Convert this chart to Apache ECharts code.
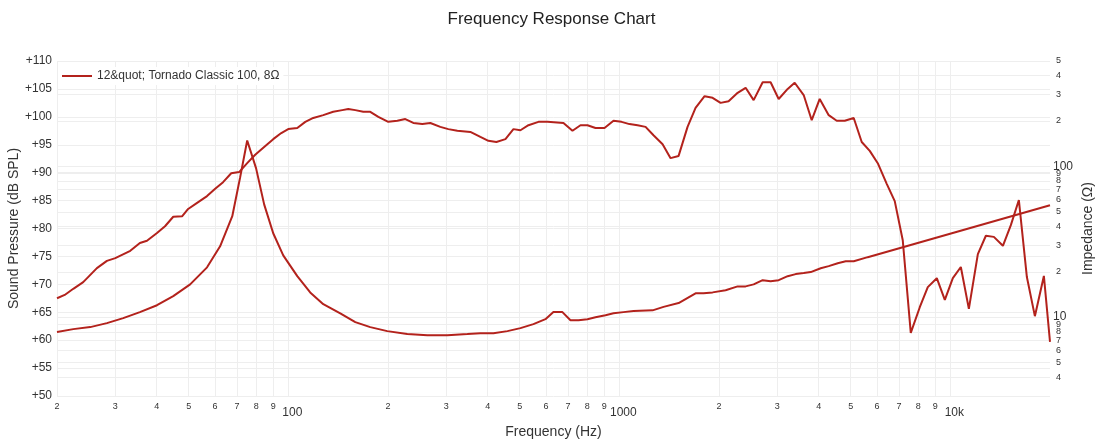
<!DOCTYPE html>
<html><head><meta charset="utf-8">
<script src="https://cdn.jsdelivr.net/npm/echarts@6/dist/echarts.min.js"></script>
<style>html,body{margin:0;padding:0;background:#fff}#c{width:1103px;height:444px}</style>
</head><body><div id="c"></div>
<script>
const seriesName = '12&quot; Tornado Classic 100, 8Ω';

const splFreq = [20, 21.1, 22.4, 24.0, 26.4, 28.3, 30.0, 33.3, 35.6, 37.4,
  40.1, 42.4, 44.9, 47.8, 49.8, 53.0, 56.8, 60.1, 63.5, 67.2,
  71.0, 75.1, 79.4, 84.5, 90.0, 95.2, 99.9, 106.4, 112.5, 118.9,
  127.5, 136.6, 145.5, 151.7, 159.3, 168.4, 176.8, 187.0, 200.4, 213.4,
  225.6, 238.5, 253.9, 268.5, 287.8, 304.3, 324.0, 354.7, 380.3, 402.1,
  425.1, 452.7, 478.6, 502.5, 531.3, 569.5, 606.4, 677.9, 721.7, 763.0,
  801.1, 847, 901.8, 960.1, 1015, 1073, 1135, 1200, 1268, 1351,
  1428, 1510, 1607, 1699, 1809, 1913, 2022, 2138, 2277, 2407,
  2545, 2710, 2864, 3029, 3225, 3386, 3605, 3812, 4030, 4290,
  4536, 4796, 5106, 5398, 5708, 6035, 6424, 6792, 7181, 7593,
  8084, 8547, 9100, 9622, 10174, 10756, 11374, 12108, 12802, 13534,
  14412, 15232, 16106, 17028, 18004, 19166, 20000];
const splDb = [67.5, 68.1, 69.2, 70.4, 72.9, 74.2, 74.7, 76.0, 77.4, 77.8,
  79.2, 80.4, 82.1, 82.2, 83.5, 84.6, 85.8, 87.1, 88.3, 89.9,
  90.1, 91.7, 93.2, 94.6, 96.0, 97.1, 97.8, 98.0, 99.1, 99.8,
  100.3, 100.9, 101.2, 101.4, 101.2, 100.9, 100.9, 100.0, 99.1, 99.3,
  99.6, 98.9, 98.7, 98.9, 98.2, 97.8, 97.5, 97.3, 96.4, 95.7,
  95.5, 96.0, 97.8, 97.6, 98.5, 99.1, 99.1, 98.9, 97.5, 98.5,
  98.5, 98.0, 98.0, 99.3, 99.1, 98.7, 98.5, 98.2, 96.7, 95.1,
  92.6, 93.0, 98.2, 101.6, 103.7, 103.4, 102.5, 102.8, 104.3, 105.2,
  103.0, 106.2, 106.2, 103.2, 105.0, 106.1, 103.9, 99.4, 103.2, 100.3,
  99.3, 99.3, 99.8, 95.5, 93.9, 91.7, 88.0, 84.9, 77.9, 61.3,
  65.9, 69.5, 71.1, 67.2, 71.1, 73.1, 65.6, 75.4, 78.7, 78.5,
  76.9, 80.6, 85.1, 71.3, 64.3, 71.5, 59.7];

const impFreq = [20, 22.4, 25.2, 28.3, 31.7, 35.6, 40.1, 44.9, 50.5, 56.8,
  62.2, 67.7, 71.5, 75.1, 79.9, 84.5, 90.0, 96.5, 106.4, 116.4,
  127.5, 143.5, 159.3, 176.8, 199, 228.7, 262.9, 302.2, 347.4, 380.3,
  416.4, 459, 502.5, 550, 598, 632, 673, 711.6, 752.6, 801,
  847, 908, 960, 1029, 1104, 1260, 1360, 1510, 1699, 1796,
  1913, 2094, 2277, 2407, 2545, 2710, 2864, 3029, 3225, 3409,
  3605, 3786, 4058, 4290, 4568, 4830, 5106, 5628, 20000];
const impOhm = [7.96, 8.33, 8.59, 9.13, 9.85, 10.8, 12.0, 13.8, 16.5, 21.4,
  29.5, 46.7, 84.5, 148.6, 97.0, 56.0, 36.0, 25.7, 18.7, 14.6,
  12.2, 10.6, 9.27, 8.59, 8.08, 7.72, 7.60, 7.60, 7.72, 7.83,
  7.83, 8.08, 8.46, 8.99, 9.70, 10.8, 10.8, 9.55, 9.55, 9.70,
  10.0, 10.3, 10.6, 10.8, 11.0, 11.1, 11.7, 12.4, 14.4, 14.4,
  14.6, 15.1, 16.0, 16.0, 16.5, 17.6, 17.3, 17.6, 18.7, 19.3,
  19.6, 19.9, 21.1, 21.8, 22.8, 23.5, 23.5, 25.0, 55.2];

const xTickValues = [20, 30, 40, 50, 60, 70, 80, 90, 100,
  200, 300, 400, 500, 600, 700, 800, 900, 1000,
  2000, 3000, 4000, 5000, 6000, 7000, 8000, 9000, 10000];
const xTickLabels = ['2', '3', '4', '5', '6', '7', '8', '9', '100',
  '2', '3', '4', '5', '6', '7', '8', '9', '1000',
  '2', '3', '4', '5', '6', '7', '8', '9', '10k'];
const xMajorLabels = ['100', '1000', '10k'];

const yRightTickValues = [4, 5, 6, 7, 8, 9, 10, 20, 30, 40, 50, 60, 70, 80, 90, 100, 200, 300, 400, 500];
const yRightTickLabels = ['4', '5', '6', '7', '8', '9', '10', '2', '3', '4', '5', '6', '7', '8', '9', '100', '2', '3', '4', '5'];
const yRightMajorLabels = ['10', '100'];

const yLeftMin = 50, yLeftMax = 110, yLeftStep = 5;

const RED = '#b3221c';
const FONT = 'Arial, "Liberation Sans", sans-serif';
const TXT = '#333';

function labelFor(values, labels, majors, v) {
  let idx = -1, best = Infinity;
  values.forEach((t, i) => { const d = Math.abs(Math.log(t) - Math.log(v)); if (d < best) { best = d; idx = i; } });
  const t = labels[idx];
  return majors.indexOf(t) >= 0 ? '{b|' + t + '}' : '{s|' + t + '}';
}

const chart = echarts.init(document.getElementById('c'), null, {renderer: 'canvas'});
chart.setOption({
  animation: false,
  backgroundColor: '#fff',
  textStyle: {fontFamily: FONT},
  title: {
    text: 'Frequency Response Chart', left: 'center', top: 6,
    textStyle: {fontSize: 17, fontWeight: 'normal', color: '#222', fontFamily: FONT}
  },
  legend: {
    data: [seriesName], left: 58, top: 67, padding: [3, 4],
    icon: 'rect', itemWidth: 30, itemHeight: 2, itemGap: 5,
    backgroundColor: '#fff',
    textStyle: {fontSize: 12, color: TXT, fontFamily: FONT}
  },
  grid: {left: 57, right: 53, top: 61, bottom: 48, containLabel: false, outerBoundsMode: 'none'},
  xAxis: {
    type: 'log', logBase: 10, min: 20, max: 20000,
    name: 'Frequency (Hz)', nameLocation: 'middle', nameGap: 29, nameMoveOverlap: false,
    nameTextStyle: {fontSize: 14, color: TXT, fontFamily: FONT},
    axisLine: {show: false},
    axisTick: {show: false, customValues: xTickValues},
    axisLabel: {
      customValues: xTickValues, margin: 6, color: TXT,
      formatter: v => labelFor(xTickValues, xTickLabels, xMajorLabels, v),
      rich: {
        s: {fontSize: 9, color: TXT, fontFamily: FONT},
        b: {fontSize: 12, color: TXT, fontFamily: FONT, padding: [5, 0, 0, 8]}
      }
    },
    splitLine: {show: true, lineStyle: {color: '#eee', width: 1}},
    minorTick: {show: false}
  },
  yAxis: [{
    type: 'value', min: yLeftMin, max: yLeftMax, interval: yLeftStep, position: 'left',
    name: 'Sound Pressure (dB SPL)', nameLocation: 'middle', nameGap: 36, nameRotate: 90,
    nameMoveOverlap: false,
    nameTextStyle: {fontSize: 14, color: TXT, fontFamily: FONT},
    axisLine: {show: false}, axisTick: {show: false},
    axisLabel: {margin: 5, fontSize: 12, color: TXT, formatter: v => '+' + v},
    splitLine: {show: true, lineStyle: {color: '#eee', width: 1}}
  }, {
    type: 'log', logBase: 10, min: 3, max: 500, position: 'right',
    name: 'Impedance (Ω)', nameLocation: 'middle', nameGap: 31, nameRotate: 90,
    nameMoveOverlap: false,
    nameTextStyle: {fontSize: 14, color: TXT, fontFamily: FONT},
    axisLine: {show: false},
    axisTick: {show: false, customValues: yRightTickValues},
    axisLabel: {
      customValues: yRightTickValues, margin: 3, color: TXT,
      formatter: v => labelFor(yRightTickValues, yRightTickLabels, yRightMajorLabels, v),
      rich: {
        s: {fontSize: 9, color: TXT, fontFamily: FONT, padding: [0, 0, 0, 3]},
        b: {fontSize: 12, color: TXT, fontFamily: FONT}
      }
    },
    splitLine: {show: true, lineStyle: {color: '#eee', width: 1}}
  }],
  series: [{
    name: seriesName, type: 'line', xAxisIndex: 0, yAxisIndex: 0,
    data: splFreq.map((f, i) => [f, splDb[i]]),
    symbol: 'none', lineStyle: {color: RED, width: 2}, itemStyle: {color: RED}
  }, {
    name: seriesName, type: 'line', xAxisIndex: 0, yAxisIndex: 1,
    data: impFreq.map((f, i) => [f, impOhm[i]]),
    symbol: 'none', lineStyle: {color: RED, width: 2}, itemStyle: {color: RED}
  }]
});
</script>
</body></html>
